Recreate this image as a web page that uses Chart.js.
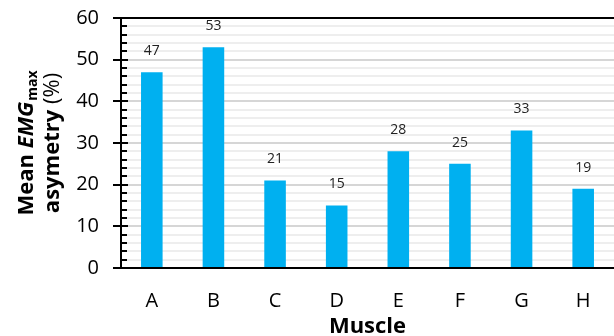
<!DOCTYPE html>
<html>
<head>
<meta charset="utf-8">
<script src="https://cdn.jsdelivr.net/npm/chart.js@4"></script>
</head>
<body style="margin:0; background:#fff">
<canvas id="chart" width="614" height="336"></canvas>
<script>
const muscles = ["A", "B", "C", "D", "E", "F", "G", "H"];
const asymmetry = [47, 53, 21, 15, 28, 25, 33, 19];
const yMax = 60;
const yStep = 2;

const FONT = "'Open Sans', 'DejaVu Sans', sans-serif";

// value labels, y tick marks, top border and axis titles
const decor = {
    id: 'decor',
    afterDraw(chart) {
        const ctx = chart.ctx;
        const a = chart.chartArea;
        const yScale = chart.scales.y;
        const meta = chart.getDatasetMeta(0);
        ctx.save();

        // value labels above bars
        ctx.font = `14px ${FONT}`;
        ctx.fillStyle = "#222";
        ctx.textAlign = "center";
        ctx.textBaseline = "middle";
        meta.data.forEach((bar, i) => {
            ctx.fillText(String(asymmetry[i]), bar.x, bar.y - 21);
        });

        // top border + tick marks
        ctx.fillStyle = "#000";
        ctx.fillRect(a.left - 8, Math.round(a.top) - 1, a.right - a.left + 8, 2);
        for (let v = 0; v <= yMax; v += yStep) {
            const py = Math.round(yScale.getPixelForValue(v));
            if (v % 10 === 0) {
                ctx.fillRect(a.left - 8, py - 1, 15, 2);
            } else {
                ctx.fillRect(a.left, py - 1, 6, 2);
            }
        }

        // x title
        ctx.font = `bold 22px ${FONT}`;
        ctx.textAlign = "center";
        ctx.textBaseline = "alphabetic";
        ctx.fillText("Muscle", (a.left + a.right) / 2, 333);

        // y title, two rotated lines
        ctx.translate(0, 143);
        ctx.rotate(-Math.PI / 2);
        ctx.textAlign = "left";
        ctx.textBaseline = "middle";
        const f1 = `bold 22px ${FONT}`;
        const f2 = `italic bold 22px ${FONT}`;
        const f3 = `bold 14px ${FONT}`;
        ctx.font = f1; const w1 = ctx.measureText("Mean ").width;
        ctx.font = f2; const w2 = ctx.measureText("EMG").width;
        ctx.font = f3; const w3 = ctx.measureText("max").width;
        let sx = -(w1 + w2 + w3 + 1) / 2;
        const l1 = 27;
        ctx.font = f1; ctx.fillText("Mean ", sx, l1); sx += w1;
        ctx.font = f2; ctx.fillText("EMG", sx, l1); sx += w2 + 1;
        ctx.font = f3; ctx.fillText("max", sx, l1 + 6);
        const g2 = `22px ${FONT}`;
        ctx.font = f1; const v1 = ctx.measureText("asymetry ").width;
        ctx.font = g2; const v2 = ctx.measureText("(%)").width;
        let tx = -(v1 + v2) / 2;
        const l2 = 53;
        ctx.font = f1; ctx.fillText("asymetry ", tx, l2); tx += v1;
        ctx.font = g2; ctx.fillText("(%)", tx, l2);
        ctx.restore();
    }
};

new Chart(document.getElementById("chart"), {
    type: "bar",
    data: {
        labels: muscles,
        datasets: [{
            data: asymmetry,
            backgroundColor: "#00b0f0",
            borderWidth: 0,
            categoryPercentage: 1,
            barPercentage: 0.35
        }]
    },
    options: {
        responsive: false,
        animation: false,
        layout: { padding: { top: 18 } },
        plugins: {
            legend: { display: false },
            tooltip: { enabled: false }
        },
        scales: {
            x: {
                afterFit(s) { s.height = 68; },
                grid: { display: false, drawTicks: false },
                border: { color: "#000", width: 2 },
                ticks: {
                    padding: 21,
                    color: "#000",
                    font: { family: FONT, size: 20 }
                }
            },
            y: {
                min: 0,
                max: yMax,
                afterFit(s) { s.width = 121; s.paddingTop = 0; s.paddingBottom = 0; },
                grid: {
                    drawTicks: false,
                    lineWidth: 2,
                    color: (c) => {
                        const v = c.tick ? c.tick.value : 0;
                        if (v === 0 || v === yMax) return "rgba(0,0,0,0)";
                        return v % 10 === 0 ? "#d6d6d6" : "#eeeeee";
                    }
                },
                border: { color: "#000", width: 2 },
                ticks: {
                    stepSize: yStep,
                    autoSkip: false,
                    padding: 22,
                    color: "#000",
                    font: { family: FONT, size: 20 },
                    callback: (v) => v % 10 === 0 ? v : ""
                }
            }
        }
    },
    plugins: [decor]
});
</script>
</body>
</html>
